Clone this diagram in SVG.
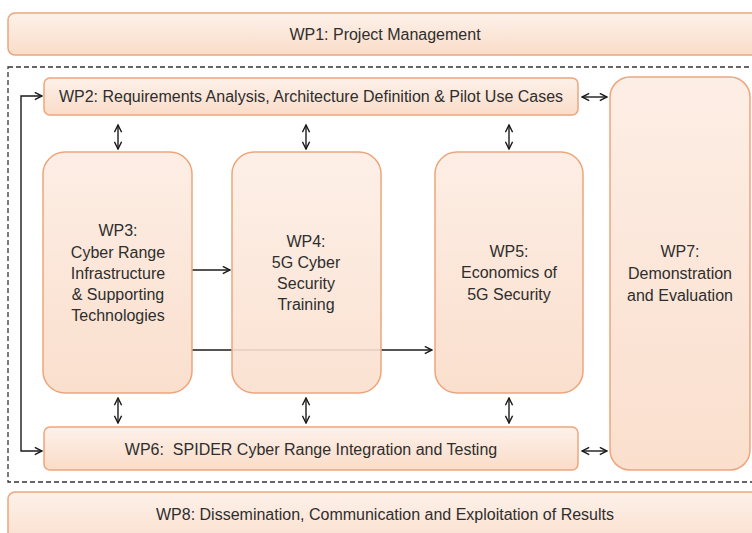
<svg xmlns="http://www.w3.org/2000/svg" width="752" height="533" viewBox="0 0 752 533">
<style>
.box{stroke:#eda57c;stroke-width:1.5}
.t{font-family:"Liberation Sans",Arial,sans-serif;font-size:16px;fill:#2e2e2e;text-anchor:middle}
.c{stroke:#1a1a1a;stroke-width:1.4;fill:none}
</style>
<defs>
<linearGradient id="g" x1="0" y1="0" x2="0" y2="1">
<stop offset="0" stop-color="#fdf1ea"/>
<stop offset="1" stop-color="#fadcc8"/>
</linearGradient>
<linearGradient id="gv" x1="0" y1="0" x2="0" y2="1">
<stop offset="0" stop-color="#fdeee5"/>
<stop offset="1" stop-color="#fadfcd"/>
</linearGradient>
<marker id="a" viewBox="0 0 10 10" refX="9" refY="5" markerWidth="9" markerHeight="9" markerUnits="userSpaceOnUse" orient="auto-start-reverse">
<path d="M1,1 L9,5 L1,9" fill="none" stroke="#1a1a1a" stroke-width="1.6"/>
</marker>
</defs>
<rect width="752" height="533" fill="#fff"/>
<g id="wp1"><rect class="box" x="8" y="13" width="760" height="42" rx="7" fill="url(#g)"/><text class="t" x="385" y="40">WP1: Project Management</text></g>
<rect x="8" y="67" width="770" height="415" fill="none" stroke="#333" stroke-width="1.3" stroke-dasharray="5,3"/>
<g id="connectors">
<line class="c" x1="192" y1="350" x2="432" y2="350" marker-end="url(#a)"/>
<line class="c" x1="192" y1="270" x2="230" y2="270" marker-end="url(#a)"/>
<polyline class="c" points="42,96 21,96 21,451 42,451" marker-start="url(#a)" marker-end="url(#a)"/>
<line class="c" x1="118" y1="125" x2="118" y2="149" marker-start="url(#a)" marker-end="url(#a)"/>
<line class="c" x1="306" y1="125" x2="306" y2="149" marker-start="url(#a)" marker-end="url(#a)"/>
<line class="c" x1="509" y1="125" x2="509" y2="149" marker-start="url(#a)" marker-end="url(#a)"/>
<line class="c" x1="118" y1="398" x2="118" y2="423" marker-start="url(#a)" marker-end="url(#a)"/>
<line class="c" x1="306" y1="398" x2="306" y2="423" marker-start="url(#a)" marker-end="url(#a)"/>
<line class="c" x1="509" y1="398" x2="509" y2="423" marker-start="url(#a)" marker-end="url(#a)"/>
<line class="c" x1="582" y1="97" x2="607" y2="97" marker-start="url(#a)" marker-end="url(#a)"/>
<line class="c" x1="582" y1="451" x2="607" y2="451" marker-start="url(#a)" marker-end="url(#a)"/>
</g>
<g id="wp2"><rect class="box" x="44" y="78" width="534" height="37" rx="6" fill="url(#g)"/><text class="t" x="311" y="102">WP2: Requirements Analysis, Architecture Definition &amp; Pilot Use Cases</text></g>
<g id="wp3"><rect class="box" x="43" y="152" width="149" height="241" rx="22" fill="url(#gv)"/>
<text class="t"><tspan x="118" y="236">WP3:</tspan><tspan x="118" y="258">Cyber Range</tspan><tspan x="118" y="279">Infrastructure</tspan><tspan x="118" y="300">&amp; Supporting</tspan><tspan x="118" y="321">Technologies</tspan></text></g>
<g id="wp4"><rect class="box" x="232" y="152" width="149" height="241" rx="22" fill="url(#gv)" fill-opacity="0.9"/>
<text class="t"><tspan x="306" y="247">WP4:</tspan><tspan x="306" y="268">5G Cyber</tspan><tspan x="306" y="289">Security</tspan><tspan x="306" y="310">Training</tspan></text></g>
<g id="wp5"><rect class="box" x="435" y="152" width="148" height="241" rx="22" fill="url(#gv)"/>
<text class="t"><tspan x="509" y="257">WP5:</tspan><tspan x="509" y="278">Economics of</tspan><tspan x="509" y="300">5G Security</tspan></text></g>
<g id="wp7"><rect class="box" x="610" y="77" width="140" height="393" rx="20" fill="url(#gv)"/>
<text class="t"><tspan x="680" y="257">WP7:</tspan><tspan x="680" y="279">Demonstration</tspan><tspan x="680" y="301">and Evaluation</tspan></text></g>
<g id="wp6"><rect class="box" x="44" y="427" width="534" height="43" rx="6" fill="url(#g)"/><text class="t" x="311" y="455" xml:space="preserve">WP6:  SPIDER Cyber Range Integration and Testing</text></g>
<g id="wp8"><rect class="box" x="8" y="492" width="760" height="60" rx="7" fill="url(#g)"/><text class="t" x="385" y="520">WP8: Dissemination, Communication and Exploitation of Results</text></g>
</svg>
